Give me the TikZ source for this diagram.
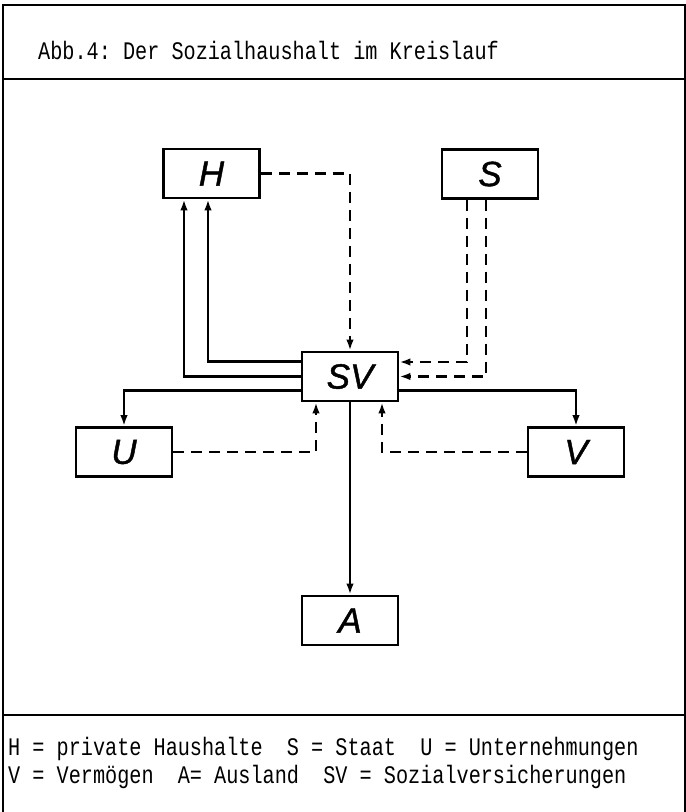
\documentclass[tikz,border=0pt]{standalone}
\usepackage{fontspec}
\setmonofont{Liberation Mono}
\newfontfamily\boxfont{Liberation Sans}[FakeBold=1.2]
\usetikzlibrary{arrows.meta}
\begin{document}
\begin{tikzpicture}[x=1pt,y=-1pt,
  blk/.style={draw, line width=2.8pt, minimum width=96pt, minimum height=49pt, inner sep=0pt,
    font=\boxfont\itshape\fontsize{35}{35}\selectfont},
  flow/.style={line width=2.4pt, -{Latex[length=11pt,width=7.5pt]}},
  dflow/.style={flow, dash pattern=on 11pt off 7pt},
  frameline/.style={line width=2pt},
  txt/.style={font=\ttfamily\fontsize{20.2}{20.2}\selectfont, anchor=west, inner sep=0pt}]
\useasboundingbox (0,0) rectangle (686,812);
% frame
\draw[frameline] (3,812) -- (3,5) -- (685,5) -- (685,812);
\draw[frameline] (3,79) -- (686,79);
\draw[frameline] (3,715) -- (686,715);
% title and legend
\node[txt] (title) at (38,50) {\scalebox{1}[1.25]{Abb.4: Der Sozialhaushalt im Kreislauf}};
\node[txt] (leg1) at (8,749) {\scalebox{1}[1.25]{H = private Haushalte~~S = Staat~~U = Unternehmungen}};
\node[txt] (leg2) at (8,777) {\scalebox{1}[1.25]{V = Vermögen~~A= Ausland~~SV = Sozialversicherungen}};
% boxes
\node[blk] (H) at (211.5,173.5) {H};
\node[blk] (S) at (490,174) {S};
\node[blk] (SV) at (350,376.5) {SV};
\node[blk] (U) at (124,452) {U};
\node[blk] (V) at (576,452) {V};
\node[blk] (A) at (350,620.5) {A};
% connectors
\draw[dflow] (H.east) -| (SV.north);
\draw[flow] ([yshift=15pt]SV.west) -| ([xshift=-3.5pt]H.south);
\draw[flow] (SV.west) -| ([xshift=-27.5pt]H.south);
\draw[flow] ([yshift=-14pt]SV.west) -| (U.north);
\draw[flow] ([yshift=-14pt]SV.east) -| (V.north);
\draw[dflow] ([xshift=-23pt]S.south) |- ([yshift=14.5pt]SV.east);
\draw[dflow] ([xshift=-4pt]S.south) |- (SV.east);
\draw[dflow] (U.east) -| ([xshift=-34pt]SV.south);
\draw[dflow] (V.west) -| ([xshift=32pt]SV.south);
\draw[flow] (SV.south) -- (A.north);
\end{tikzpicture}
\end{document}
